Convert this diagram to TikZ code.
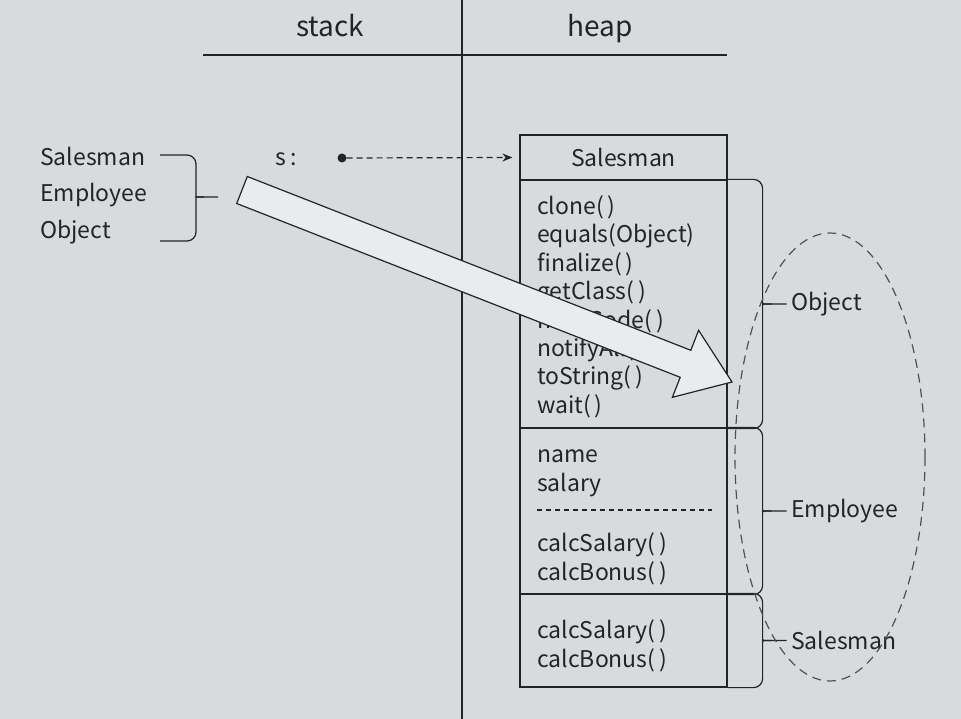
\documentclass[tikz,border=0pt]{standalone}
\usepackage{fontspec}
\setmainfont{Noto Sans CJK KR}
\usetikzlibrary{arrows.meta}
\definecolor{paper}{RGB}{216,219,222}
\definecolor{ink}{RGB}{36,36,38}

\begin{document}
\begin{tikzpicture}[x=1pt,y=-1pt,
    every node/.style={font=\fontsize{23}{28}\selectfont, text=ink, inner sep=0pt},
    line/.style={ink, line width=1.2pt},
    cell/.style={line, draw, minimum width=207pt},
    item/.style={anchor=base west},
    title/.style={anchor=base, font=\fontsize{28}{32}\selectfont}
  ]
        \fill[paper] (0,0) rectangle (961,719);
        \useasboundingbox (0,0) rectangle (961,719);
        % stack | heap
        \node[title] (stack) at (330,37) {stack};
        \node[title] (heap) at (600,37) {heap};
        \draw[line] (203,55) -- (727,55);
        \draw[line] (462,0) -- (462,719);
        % reference s
        \node[anchor=base] (s) at (286,166) {s\,:};
        \node[circle, fill=ink, minimum size=9pt] (dot) at (342,158) {};
        % object in the heap
        \node[cell, minimum height=45pt] (head) at (623.5,157.5) {Salesman};
        \node[cell, minimum height=248pt] (obj) at (623.5,304) {};
        \node[cell, minimum height=166pt] (emp) at (623.5,511) {};
        \node[cell, minimum height=93pt] (sal) at (623.5,640.5) {};
        \draw[line, dash pattern=on 6pt off 4pt, -{Stealth[length=10pt,width=8pt]}]
            (dot) -- ([xshift=-7pt]head.west);
        \foreach \m [count=\i] in {clone(\,), equals(Object), finalize(\,), getClass(\,),
            hashCode(\,), notifyAll(\,), toString(\,), wait(\,)}
            \node[item] at (537,186+28.4*\i) {\m};
        \node[item] at (537,462) {name};
        \node[item] at (537,491) {salary};
        \draw[line, dash pattern=on 5pt off 4pt] (537,510) -- (712,510);
        \node[item] at (537,551) {calcSalary(\,)};
        \node[item] at (537,580) {calcBonus(\,)};
        \node[item] at (537,638) {calcSalary(\,)};
        \node[item] at (537,667) {calcBonus(\,)};
        % braces at the right
        \foreach \sec/\lab in {obj/Object, emp/Employee, sal/Salesman} {
            \draw[line] (\sec.north east) [rounded corners=9pt] -| ([shift={(35,-8)}]\sec.east)
                [sharp corners] .. controls +(0,8) .. ([shift={(44,0)}]\sec.east) -- ++(15,0)
                node[anchor=west, xshift=4pt] (\sec lab) {\lab};
            \draw[line] (\sec.south east) [rounded corners=9pt] -| ([shift={(35,8)}]\sec.east)
                [sharp corners] .. controls +(0,-8) .. ([shift={(44,0)}]\sec.east);
        }
        \draw[ink!80, line width=1.2pt, dash pattern=on 9pt off 6pt] (830,457) ellipse (95 and 224);
        % types of s
        \node[item] (lsal) at (40,166) {Salesman};
        \node[item] (lemp) at (40,202) {Employee};
        \node[item] (lobj) at (40,239) {Object};
        \draw[line, rounded corners=9pt] (160,155) -| (196,188)
            [sharp corners] .. controls (196,197) .. (204,197) -- (218,197);
        \draw[line, rounded corners=9pt] (160,241) -| (196,206)
            [sharp corners] .. controls (196,197) .. (204,197);
        % big arrow
        \draw[line, fill=paper!55!white] (236.7,203.5) -- (247.3,176.5) -- (690.8,350.3)
            -- (698.6,330.3) -- (732,382) -- (672.4,397.3) -- (680.2,377.3) -- cycle;
\end{tikzpicture}
\end{document}
